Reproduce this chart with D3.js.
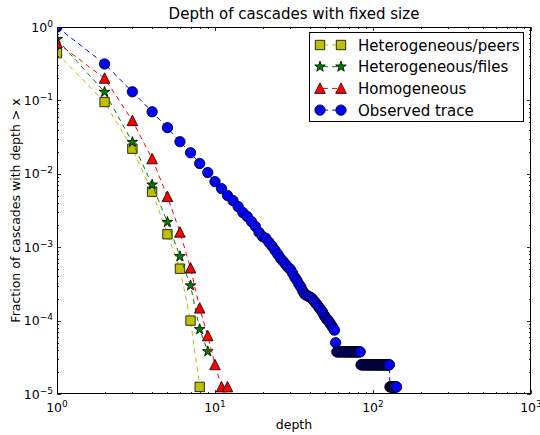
<!DOCTYPE html>
<html>
<head>
<meta charset="utf-8">
<script src="https://cdn.jsdelivr.net/npm/d3@7"></script>
<style>
body { margin: 0; background: #fff; }
text { font-family: "DejaVu Sans", sans-serif; fill: #000; }
</style>
</head>
<body>
<svg id="chart" width="540" height="435"></svg>
<script>
const width = 540, height = 435;

// data
const depthPeers = [1, 2, 3, 4, 5, 6, 7, 8];
const fracPeers = [0.44, 0.095, 0.022, 0.0057, 0.0015, 0.00051, 0.0001, 0.0000125];

const depthFiles = [1, 2, 3, 4, 5, 6, 7, 8, 9];
const fracFiles = [0.68, 0.13, 0.027, 0.0071, 0.0022, 0.00075, 0.0003, 0.000076, 0.000038];

const depthHomog = [1, 2, 3, 4, 5, 6, 7, 8, 9, 10, 11, 12];
const fracHomog = [0.61, 0.2, 0.053, 0.016, 0.0049, 0.0016, 0.00052, 0.000148, 0.000062, 0.000025, 0.0000125, 0.0000125];

const depthObserved = [
    1, 2, 3, 4, 5, 6, 7, 8, 9, 10, 11, 12, 13, 14, 15, 16, 17, 18, 19, 20,
    21, 22, 23, 24, 25, 26, 27, 28, 29, 30, 31, 32, 33, 34, 35, 36, 37, 38, 39, 40,
    41, 42, 43, 44, 45, 46, 47, 48, 49, 50, 51, 52, 53, 54, 55, 56, 57, 58, 59, 60,
    61, 62, 63, 64, 65, 66, 67, 68, 69, 70, 71, 72, 73, 74, 75, 76, 77, 78, 79, 80,
    81, 82, 83, 84, 85, 86, 87, 88, 89, 90, 91, 92, 93, 94, 95, 96, 97, 98, 99, 100,
    101, 102, 103, 104, 105, 106, 107, 108, 109, 110, 111, 112, 113, 114, 115, 116, 117, 118, 119, 120,
    121, 122, 123, 124, 125, 126, 127, 128, 129, 130, 131, 132, 133, 134, 135, 136, 137, 138, 139, 140,
    141];
const fracObserved = [
    1.0, 0.314, 0.131, 0.070, 0.0425, 0.0274, 0.0194, 0.0138, 0.0104, 0.00783,
    0.00629, 0.00506, 0.00432, 0.00358, 0.00297, 0.00262, 0.00224, 0.00192, 0.00159, 0.00140,
    0.00132, 0.00116, 0.00103, 0.000905, 0.000798, 0.000705, 0.000642, 0.000584, 0.000532, 0.000499,
    0.000441, 0.000389, 0.000354, 0.000313, 0.000285, 0.000251, 0.000229, 0.000221, 0.000215, 0.000208,
    0.000202, 0.000189, 0.000178, 0.000167, 0.000157, 0.000147, 0.000138, 0.000130, 0.000118, 0.000111,
    0.000104, 0.000101, 0.0000951, 0.0000893, 0.0000839, 0.0000789, 0.0000741, 0.0000500, 0.0000375, 0.0000375,
    0.0000375, 0.0000375, 0.0000375, 0.0000375, 0.0000375, 0.0000375, 0.0000375, 0.0000375, 0.0000375, 0.0000375,
    0.0000375, 0.0000375, 0.0000375, 0.0000375, 0.0000375, 0.0000375, 0.0000375, 0.0000375, 0.0000375, 0.0000375,
    0.0000375, 0.0000375, 0.0000375, 0.000025, 0.000025, 0.000025, 0.000025, 0.000025, 0.000025, 0.000025,
    0.000025, 0.000025, 0.000025, 0.000025, 0.000025, 0.000025, 0.000025, 0.000025, 0.000025, 0.000025,
    0.000025, 0.000025, 0.000025, 0.000025, 0.000025, 0.000025, 0.000025, 0.000025, 0.000025, 0.000025,
    0.000025, 0.000025, 0.000025, 0.000025, 0.000025, 0.000025, 0.000025, 0.000025, 0.000025, 0.000025,
    0.000025, 0.000025, 0.000025, 0.000025, 0.000025, 0.000025, 0.000025, 0.0000125, 0.0000125, 0.0000125,
    0.0000125, 0.0000125, 0.0000125, 0.0000125, 0.0000125, 0.0000125, 0.0000125, 0.0000125, 0.0000125, 0.0000125,
    0.0000125];

const seriesNames = ["Heterogeneous/peers", "Heterogeneous/files", "Homogeneous", "Observed trace"];
const xTickLabels = ["0", "1", "2", "3"];
const yTickLabels = ["\u22125", "\u22124", "\u22123", "\u22122", "\u22121", "0"];

const margin = {left: 57, right: 531, top: 27, bottom: 394};

const x = d3.scaleLog().domain([1, 1000]).range([margin.left, margin.right]);
const y = d3.scaleLog().domain([1e-5, 1]).range([margin.bottom, margin.top]);

const svg = d3.select("#chart");

svg.append("defs").append("clipPath")
    .attr("id", "plot-clip")
    .append("rect")
    .attr("x", margin.left)
    .attr("y", margin.top)
    .attr("width", margin.right - margin.left)
    .attr("height", margin.bottom - margin.top);

// marker shapes, matplotlib-ish sizes
function markerPath(shape) {
    if (shape === "square") return "M-4.7,-4.7H4.7V4.7H-4.7Z";
    if (shape === "triangle") return "M0,-5.5L5.3,5L-5.3,5Z";
    if (shape === "circle") return "M5.2,0A5.2,5.2 0 1,1 -5.2,0A5.2,5.2 0 1,1 5.2,0Z";
    // star
    let p = [];
    for (let i = 0; i < 10; i++) {
        let r = i % 2 === 0 ? 5.6 : 2.2;
        let a = -Math.PI / 2 + i * Math.PI / 5;
        p.push([r * Math.cos(a), r * Math.sin(a)]);
    }
    return "M" + p.map(q => q[0].toFixed(2) + "," + q[1].toFixed(2)).join("L") + "Z";
}

const series = [
    {name: seriesNames[0], xs: depthPeers, ys: fracPeers, color: "#bfbf00", shape: "square"},
    {name: seriesNames[1], xs: depthFiles, ys: fracFiles, color: "#008000", shape: "star"},
    {name: seriesNames[2], xs: depthHomog, ys: fracHomog, color: "#ff0000", shape: "triangle"},
    {name: seriesNames[3], xs: depthObserved, ys: fracObserved, color: "#0000ff", shape: "circle"}
];

const line = d3.line()
    .x(d => x(d[0]))
    .y(d => y(d[1]));

const plot = svg.append("g").attr("clip-path", "url(#plot-clip)");

series.forEach(function (s) {
    let pts = s.xs.map((d, i) => [d, s.ys[i]]);
    plot.append("path")
        .attr("d", line(pts))
        .attr("fill", "none")
        .attr("stroke", s.color)
        .attr("stroke-width", 1)
        .attr("stroke-dasharray", "5,4");
    plot.selectAll(null)
        .data(pts)
        .enter().append("path")
        .attr("d", markerPath(s.shape))
        .attr("transform", d => "translate(" + x(d[0]) + "," + y(d[1]) + ")")
        .attr("fill", s.color)
        .attr("stroke", "#000")
        .attr("stroke-width", 0.8);
});

// frame
svg.append("rect")
    .attr("x", margin.left + 0.5)
    .attr("y", margin.top + 0.5)
    .attr("width", margin.right - margin.left - 1)
    .attr("height", margin.bottom - margin.top - 1)
    .attr("fill", "none")
    .attr("stroke", "#000")
    .attr("stroke-width", 1);

// ticks, inside, on all four sides
const ticks = svg.append("g").attr("stroke", "#000").attr("stroke-width", 0.8);
const isMajor = v => Math.abs(Math.log10(v) - Math.round(Math.log10(v))) < 1e-9;

x.ticks().forEach(function (v) {
    let len = isMajor(v) ? 4 : 2;
    let px = Math.round(x(v)) + 0.5;
    ticks.append("line").attr("x1", px).attr("x2", px).attr("y1", margin.bottom).attr("y2", margin.bottom - len);
    ticks.append("line").attr("x1", px).attr("x2", px).attr("y1", margin.top).attr("y2", margin.top + len);
});
y.ticks().forEach(function (v) {
    let len = isMajor(v) ? 4 : 2;
    let py = Math.round(y(v)) + 0.5;
    ticks.append("line").attr("y1", py).attr("y2", py).attr("x1", margin.left).attr("x2", margin.left + len);
    ticks.append("line").attr("y1", py).attr("y2", py).attr("x1", margin.right).attr("x2", margin.right - len);
});

// tick labels
const xMajor = [1, 10, 100, 1000];
xMajor.forEach(function (v, i) {
    let t = svg.append("text")
        .attr("x", x(v))
        .attr("y", 412)
        .attr("text-anchor", "middle")
        .style("font-size", "12.5px");
    t.append("tspan").text("10");
    t.append("tspan").attr("dy", -5).style("font-size", "9px").text(xTickLabels[i]);
});

const yMajor = [1e-5, 1e-4, 1e-3, 1e-2, 1e-1, 1];
yMajor.forEach(function (v, i) {
    let t = svg.append("text")
        .attr("x", 53)
        .attr("y", y(v) + 4.5)
        .attr("text-anchor", "end")
        .style("font-size", "12.5px");
    t.append("tspan").text("10");
    t.append("tspan").attr("dy", -5).style("font-size", "9px").text(yTickLabels[i]);
});

// titles
svg.append("text")
    .attr("x", (margin.left + margin.right) / 2)
    .attr("y", 19)
    .attr("text-anchor", "middle")
    .style("font-size", "15px")
    .text("Depth of cascades with fixed size");

svg.append("text")
    .attr("x", (margin.left + margin.right) / 2)
    .attr("y", 429)
    .attr("text-anchor", "middle")
    .style("font-size", "12.5px")
    .text("depth");

svg.append("text")
    .attr("transform", "translate(20," + (margin.top + margin.bottom) / 2 + ") rotate(-90)")
    .attr("text-anchor", "middle")
    .style("font-size", "12.5px")
    .text("Fraction of cascades with depth > x");

// legend
const legend = svg.append("g");
legend.append("rect")
    .attr("x", 309.5)
    .attr("y", 32.5)
    .attr("width", 214)
    .attr("height", 89)
    .attr("fill", "#fff")
    .attr("stroke", "#000")
    .attr("stroke-width", 1);

series.forEach(function (s, i) {
    let cy = 45 + i * 21.7;
    legend.append("line")
        .attr("x1", 320).attr("x2", 341)
        .attr("y1", cy).attr("y2", cy)
        .attr("stroke", s.color)
        .attr("stroke-dasharray", "5,4")
        .attr("stroke-dashoffset", -3);
    [320, 341].forEach(function (mx) {
        legend.append("path")
            .attr("d", markerPath(s.shape))
            .attr("transform", "translate(" + mx + "," + cy + ")")
            .attr("fill", s.color)
            .attr("stroke", "#000")
            .attr("stroke-width", 0.8);
    });
    legend.append("text")
        .attr("x", 358)
        .attr("y", cy + 5.5)
        .style("font-size", "15px")
        .text(s.name);
});
</script>
</body>
</html>
